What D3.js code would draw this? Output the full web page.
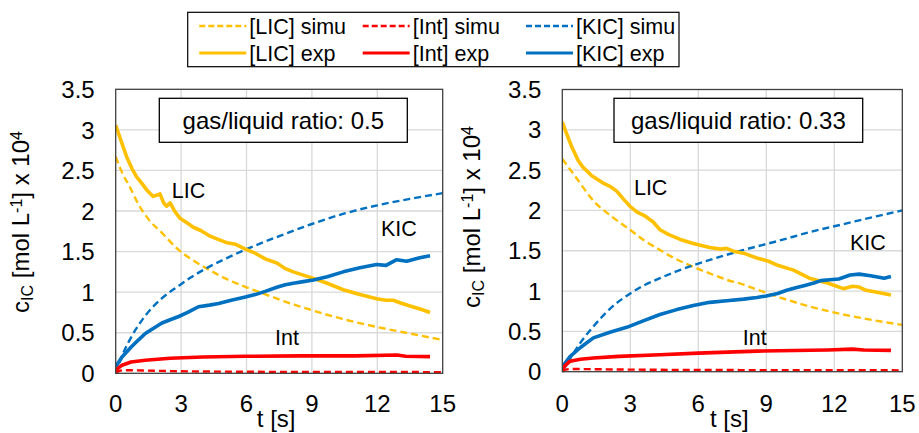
<!DOCTYPE html>
<html>
<head>
<meta charset="utf-8">
<script src="https://cdn.jsdelivr.net/npm/d3@7"></script>
<style>
  body { margin: 0; background: #fff; }
  text { font-family: "Liberation Sans", Arial, sans-serif; fill: #000; }
</style>
</head>
<body>
<div id="chart"></div>
<script>
// ---- data ----
var xTicks = [0, 3, 6, 9, 12, 15];
var yTicks = [0, 0.5, 1, 1.5, 2, 2.5, 3, 3.5];

// panel A: gas/liquid ratio 0.5
var tLicExpA = [0, 0.2, 0.5, 0.75, 0.96, 1.2, 1.42, 1.72, 2.03, 2.2, 2.34, 2.5, 2.7, 2.95, 3.3, 3.56, 3.9, 4.33, 4.7, 5.09, 5.5, 5.95, 6.4, 6.86, 7.39, 7.78, 8.15, 8.6, 9.07, 9.7, 10.44, 11.2, 11.97, 12.4, 12.73, 13.04, 13.5, 14.0, 14.42];
var licExpA  = [3.06, 2.90, 2.67, 2.52, 2.42, 2.34, 2.26, 2.18, 2.21, 2.10, 2.06, 2.10, 2.00, 1.91, 1.85, 1.80, 1.76, 1.69, 1.65, 1.61, 1.59, 1.53, 1.48, 1.41, 1.36, 1.29, 1.25, 1.21, 1.17, 1.11, 1.03, 0.97, 0.92, 0.90, 0.90, 0.87, 0.83, 0.79, 0.75];
var tLicSimA = [0, 0.3, 0.66, 1.05, 1.5, 2.12, 2.89, 3.5, 4.19, 5.18, 6.0, 6.71, 7.7, 8.85, 10.4, 12, 13.5, 15];
var licSimA  = [2.67, 2.47, 2.29, 2.08, 1.90, 1.73, 1.52, 1.40, 1.29, 1.15, 1.06, 0.99, 0.89, 0.79, 0.67, 0.57, 0.49, 0.41];
var tKicExpA = [0, 0.29, 0.7, 1.0, 1.36, 1.7, 2.12, 2.5, 2.89, 3.3, 3.8, 4.3, 4.72, 5.3, 5.95, 6.4, 6.86, 7.39, 7.78, 8.15, 8.6, 9.07, 9.7, 10.44, 11.2, 11.97, 12.4, 12.89, 13.35, 13.9, 14.42];
var kicExpA  = [0.08, 0.20, 0.32, 0.40, 0.49, 0.55, 0.62, 0.66, 0.70, 0.75, 0.82, 0.84, 0.86, 0.90, 0.94, 0.97, 1.01, 1.06, 1.09, 1.11, 1.13, 1.15, 1.19, 1.25, 1.30, 1.34, 1.33, 1.40, 1.38, 1.42, 1.45];
var tKicSimA = [0, 0.3, 0.7, 1.36, 2.1, 2.9, 3.5, 4.2, 5.1, 6.0, 7.5, 9, 10.5, 12, 13.5, 15];
var kicSimA  = [0, 0.22, 0.44, 0.71, 0.92, 1.08, 1.19, 1.30, 1.42, 1.53, 1.69, 1.84, 1.97, 2.07, 2.15, 2.22];
var tIntExpA = [0, 0.1, 0.29, 0.7, 1.36, 2.5, 4, 6, 8.5, 11, 12.9, 13.3, 14.42];
var intExpA  = [0.02, 0.06, 0.10, 0.14, 0.16, 0.185, 0.20, 0.21, 0.215, 0.215, 0.225, 0.21, 0.205];
var tIntSimA = [0, 0.15, 0.4, 0.8, 1.5, 3, 6, 10, 15];
var intSimA  = [0, 0.028, 0.038, 0.037, 0.033, 0.025, 0.019, 0.016, 0.015];

// panel B: gas/liquid ratio 0.33
var tLicExpB = [0, 0.15, 0.4, 0.7, 0.9, 1.3, 1.8, 2.1, 2.4, 2.7, 2.99, 3.3, 3.6, 4.0, 4.31, 4.7, 5.2, 5.78, 6.5, 7.0, 7.25, 7.6, 8.0, 8.58, 9.1, 9.5, 10.2, 10.9, 11.7, 12.4, 12.8, 13.1, 13.4, 14.0, 14.5];
var licExpB  = [3.10, 2.98, 2.80, 2.62, 2.54, 2.43, 2.34, 2.30, 2.24, 2.14, 2.05, 1.98, 1.94, 1.86, 1.76, 1.70, 1.64, 1.59, 1.54, 1.52, 1.53, 1.49, 1.47, 1.41, 1.37, 1.32, 1.26, 1.16, 1.10, 1.03, 1.06, 1.05, 1.01, 0.98, 0.95];
var tLicSimB = [0, 0.63, 1.37, 2.2, 2.99, 3.6, 4.31, 5.0, 5.78, 6.5, 7.25, 8.0, 8.58, 9.5, 10.9, 12.4, 13.9, 15];
var licSimB  = [2.64, 2.40, 2.12, 1.92, 1.76, 1.63, 1.51, 1.40, 1.30, 1.22, 1.14, 1.08, 1.02, 0.93, 0.81, 0.71, 0.63, 0.58];
var tKicExpB = [0, 0.35, 0.8, 1.37, 2.1, 2.84, 3.57, 4.31, 5.05, 5.78, 6.5, 7.25, 8.0, 8.58, 9.0, 9.5, 9.9, 10.3, 10.7, 11.1, 11.4, 11.8, 12.2, 12.7, 13.1, 13.6, 14.2, 14.5];
var kicExpB  = [0.06, 0.19, 0.30, 0.42, 0.49, 0.55, 0.63, 0.71, 0.77, 0.82, 0.86, 0.88, 0.90, 0.92, 0.94, 0.97, 1.01, 1.04, 1.07, 1.10, 1.13, 1.14, 1.15, 1.20, 1.21, 1.19, 1.16, 1.18];
var tKicSimB = [0, 0.34, 0.8, 1.37, 2.1, 3.0, 3.6, 4.31, 5.0, 5.78, 7.25, 8.0, 9.5, 10.9, 12.4, 13.9, 15];
var kicSimB  = [0, 0.16, 0.36, 0.56, 0.78, 0.97, 1.07, 1.16, 1.24, 1.32, 1.45, 1.51, 1.62, 1.73, 1.83, 1.93, 2.00];
var tIntExpB = [0, 0.1, 0.34, 0.8, 1.37, 2.5, 4.31, 6, 8.58, 11.7, 12.8, 13.3, 14.5];
var intExpB  = [0.02, 0.07, 0.13, 0.155, 0.17, 0.19, 0.21, 0.23, 0.255, 0.27, 0.28, 0.27, 0.265];
var tIntSimB = [0, 0.15, 0.4, 1, 3, 8, 15];
var intSimB  = [0, 0.025, 0.034, 0.032, 0.026, 0.02, 0.017];

var legendItems = [
  {label: "[LIC] simu", color: "#FFC000", dash: true},
  {label: "[Int] simu", color: "#FF0000", dash: true},
  {label: "[KIC] simu", color: "#0070C0", dash: true},
  {label: "[LIC] exp",  color: "#FFC000", dash: false},
  {label: "[Int] exp",  color: "#FF0000", dash: false},
  {label: "[KIC] exp",  color: "#0070C0", dash: false}
];

function zip(ts, vs) { return ts.map(function(t, i) { return [t, vs[i]]; }); }

var svg = d3.select("#chart").append("svg")
  .attr("width", 919).attr("height", 433);

function drawPanel(p) {
  var x = d3.scaleLinear().domain([0, 15]).range([p.left, p.right]);
  var y = d3.scaleLinear().domain([0, 3.5]).range([p.bottom, p.top]);
  var g = svg.append("g");

  // grid
  g.selectAll(".vg").data(xTicks.slice(1, -1)).enter().append("line")
    .attr("x1", function(d) { return x(d); }).attr("x2", function(d) { return x(d); })
    .attr("y1", p.top).attr("y2", p.bottom)
    .attr("stroke", "#D9D9D9").attr("stroke-width", 1.3);
  g.selectAll(".hg").data(yTicks.slice(1, -1)).enter().append("line")
    .attr("y1", function(d) { return y(d); }).attr("y2", function(d) { return y(d); })
    .attr("x1", p.left).attr("x2", p.right)
    .attr("stroke", "#D9D9D9").attr("stroke-width", 1.3);

  // tick labels
  g.selectAll(".xl").data(xTicks).enter().append("text")
    .attr("x", function(d) { return x(d); }).attr("y", 403)
    .attr("dy", "0.36em").attr("text-anchor", "middle").style("font-size", "24px")
    .text(function(d) { return d; });
  g.selectAll(".yl").data(yTicks).enter().append("text")
    .attr("x", p.left - 21).attr("y", function(d) { return y(d); })
    .attr("dy", "0.36em").attr("text-anchor", "end").style("font-size", "24px")
    .text(function(d) { return d; });

  // axis titles
  g.append("text").attr("x", (p.left + p.right) / 2 - 3).attr("y", 427)
    .attr("text-anchor", "middle").style("font-size", "24px").text("t [s]");

  var yt = g.append("text")
    .attr("transform", "translate(" + p.ytX + "," + p.ytY + ") rotate(-90)")
    .attr("text-anchor", "middle").style("font-size", "24px");
  yt.append("tspan").text("c");
  yt.append("tspan").attr("baseline-shift", "-25%").style("font-size", "16px").text("IC");
  yt.append("tspan").text(" [mol L");
  yt.append("tspan").attr("baseline-shift", "45%").style("font-size", "16px").text("-1");
  yt.append("tspan").text("] x 10");
  yt.append("tspan").attr("baseline-shift", "45%").style("font-size", "16px").text("4");

  // series
  var smooth = d3.line()
    .x(function(d) { return x(d[0]); })
    .y(function(d) { return y(d[1]); })
    .curve(d3.curveMonotoneX);
  var rough = d3.line()
    .x(function(d) { return x(d[0]); })
    .y(function(d) { return y(d[1]); });
  var clip = "clip" + p.id;
  svg.append("clipPath").attr("id", clip).append("rect")
    .attr("x", p.left).attr("y", p.top)
    .attr("width", p.right - p.left).attr("height", p.bottom - p.top + 2);
  var series = [
    {d: p.licSim, c: "#FFC000", dash: true},
    {d: p.kicSim, c: "#0070C0", dash: true},
    {d: p.intSim, c: "#FF0000", dash: true},
    {d: p.licExp, c: "#FFC000", dash: false},
    {d: p.kicExp, c: "#0070C0", dash: false},
    {d: p.intExp, c: "#FF0000", dash: false}
  ];
  g.append("g").attr("clip-path", "url(#" + clip + ")")
    .selectAll("path").data(series).enter().append("path")
    .attr("d", function(s) { return s.dash ? smooth(s.d) : rough(s.d); })
    .attr("fill", "none")
    .attr("stroke", function(s) { return s.c; })
    .attr("stroke-linejoin", "round")
    .attr("stroke-width", function(s) { return s.dash ? 2.4 : 3.6; })
    .attr("stroke-dasharray", function(s) { return s.dash ? "7,4" : null; });

  // border
  g.append("rect").attr("x", p.left).attr("y", p.top)
    .attr("width", p.right - p.left).attr("height", p.bottom - p.top)
    .attr("fill", "none").attr("stroke", "#404040").attr("stroke-width", 1.3);

  // series labels
  p.labels.forEach(function(l) {
    g.append("text").attr("x", x(l.t)).attr("y", y(l.v))
      .attr("dy", "0.36em").style("font-size", "21.5px").text(l.text);
  });

  // ratio box
  g.append("rect").attr("x", p.boxX).attr("y", 98.3)
    .attr("width", p.boxW).attr("height", 44)
    .attr("fill", "#fff").attr("stroke", "#000").attr("stroke-width", 1.3);
  g.append("text").attr("x", p.boxX + p.boxW / 2).attr("y", 120.5)
    .attr("dy", "0.36em").attr("text-anchor", "middle").style("font-size", "24px")
    .text(p.title);
}

drawPanel({
  id: "A", left: 115.7, right: 442.7, top: 89.3, bottom: 373.3,
  ytX: 29, ytY: 222, boxX: 159.3, boxW: 248, title: "gas/liquid ratio: 0.5",
  licExp: zip(tLicExpA, licExpA), licSim: zip(tLicSimA, licSimA),
  kicExp: zip(tKicExpA, kicExpA), kicSim: zip(tKicSimA, kicSimA),
  intExp: zip(tIntExpA, intExpA), intSim: zip(tIntSimA, intSimA),
  labels: [{text: "LIC", t: 2.57, v: 2.26}, {text: "KIC", t: 12.17, v: 1.79}, {text: "Int", t: 7.31, v: 0.45}]
});
drawPanel({
  id: "B", left: 562.3, right: 902.3, top: 89.5, bottom: 371.7,
  ytX: 480, ytY: 217, boxX: 614, boxW: 248.7, title: "gas/liquid ratio: 0.33",
  licExp: zip(tLicExpB, licExpB), licSim: zip(tLicSimB, licSimB),
  kicExp: zip(tKicExpB, kicExpB), kicSim: zip(tKicSimB, kicSimB),
  intExp: zip(tIntExpB, intExpB), intSim: zip(tIntSimB, intSimB),
  labels: [{text: "LIC", t: 3.16, v: 2.29}, {text: "KIC", t: 12.69, v: 1.60}, {text: "Int", t: 7.96, v: 0.43}]
});

// legend
var lg = svg.append("g");
lg.append("rect").attr("x", 187.7).attr("y", 12.3).attr("width", 491.3).attr("height", 54.4)
  .attr("fill", "#fff").attr("stroke", "#000").attr("stroke-width", 1.2);
var colX = [199.3, 362.7, 526];
var rowY = [26, 53];
var items = lg.selectAll(".li").data(legendItems).enter().append("g")
  .attr("transform", function(d, i) { return "translate(" + colX[i % 3] + "," + rowY[Math.floor(i / 3)] + ")"; });
items.append("line").attr("x1", 0).attr("x2", 47).attr("y1", 0).attr("y2", 0)
  .attr("stroke", function(d) { return d.color; })
  .attr("stroke-width", function(d) { return d.dash ? 2.3 : 3; })
  .attr("stroke-dasharray", function(d) { return d.dash ? "6,3" : null; });
items.append("text").attr("x", 50).attr("y", 0).attr("dy", "0.36em")
  .style("font-size", "21.5px").text(function(d) { return d.label; });
</script>
</body>
</html>
